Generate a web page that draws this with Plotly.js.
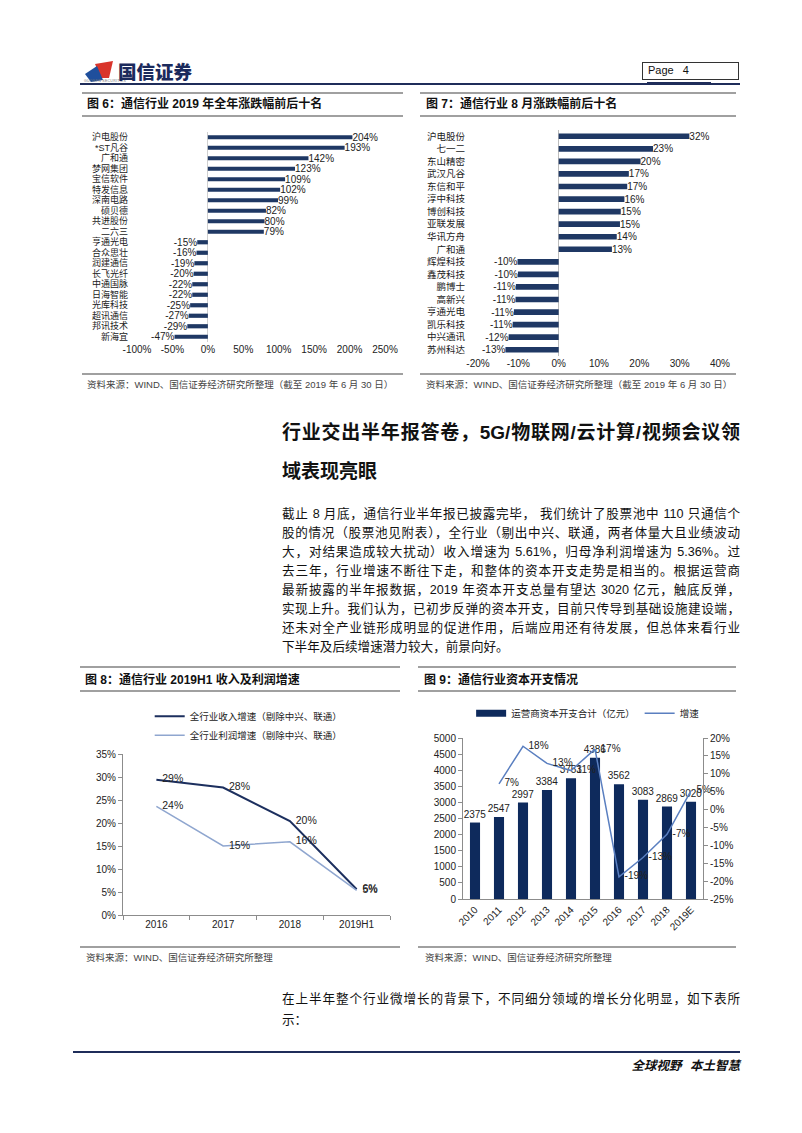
<!DOCTYPE html>
<html>
<head>
<meta charset="utf-8">
<script src="https://cdn.plot.ly/plotly-3.0.1.min.js"></script>
<style>
  html, body { margin:0; padding:0; background:#fff; }
  body { width:802px; height:1133px; position:relative; overflow:hidden;
         font-family:"Liberation Sans", "Noto Sans CJK SC", sans-serif; color:#111; }
  .abs { position:absolute; }
  .hl { position:absolute; z-index:3; }
  .plot { position:absolute; z-index:1; }
  .txt { position:absolute; z-index:4; white-space:nowrap; }
  .just { text-align:justify; text-align-last:justify; white-space:nowrap; overflow:visible; }
  .figt { font-size:12px; font-weight:bold; line-height:16px; }
  .src { font-size:9.5px; color:#444; line-height:12px; }
  .para { font-size:12.6px; line-height:18px; color:#111; }
  .head { font-size:19px; font-weight:700; line-height:26px; color:#111; }
</style>
</head>
<body>
<script>
// ---------------- DATA ----------------
const fig6Names = ['沪电股份','*ST凡谷','广和通','梦网集团','宝信软件','特发信息','深南电路','硕贝德','共进股份','二六三',
                   '亨通光电','合众思壮','润建通信','长飞光纤','中通国脉','日海智能','光库科技','超讯通信','邦讯技术','新海宜'];
const fig6Values = [204,193,142,123,109,102,99,82,80,79,-15,-16,-19,-20,-22,-22,-25,-27,-29,-47];
const fig6Ticks = [-100,-50,0,50,100,150,200,250];

const fig7Names = ['沪电股份','七一二','东山精密','武汉凡谷','东信和平','淳中科技','博创科技','亚联发展','华讯方舟','广和通',
                   '辉煌科技','鑫茂科技','鹏博士','高新兴','亨通光电','凯乐科技','中兴通讯','苏州科达'];
const fig7Values = [32.4,23.4,20.3,17.4,17.0,16.3,15.4,15.2,14.4,13.2,-10.2,-10.1,-10.6,-10.7,-11.1,-11.4,-12.4,-13.2];
const fig7Ticks = [-20,-10,0,10,20,30,40];

const fig8Years = ['2016','2017','2018','2019H1'];
const fig8Revenue = [29.4,27.7,20.4,5.61];
const fig8Profit = [23.6,15.0,15.9,5.36];
const fig8Ticks = [0,5,10,15,20,25,30,35];
const fig8Names = ['全行业收入增速（剔除中兴、联通）','全行业利润增速（剔除中兴、联通）'];

const fig9Years = ['2010','2011','2012','2013','2014','2015','2016','2017','2018','2019E'];
const fig9Capex = [2375,2547,2997,3384,3753,4386,3562,3083,2869,3020];
const fig9Growth = [null,7.2,17.7,12.9,10.9,16.9,-18.8,-13.4,-6.9,5.3];
const fig9LeftTicks = [0,500,1000,1500,2000,2500,3000,3500,4000,4500,5000];
const fig9RightTicks = [-25,-20,-15,-10,-5,0,5,10,15,20];
const fig9Names = ['运营商资本开支合计（亿元）','增速'];
</script>

<!-- header -->
<svg class="abs" style="left:83px;top:58px;z-index:4" width="34" height="28" viewBox="0 0 34 28">
  <polygon points="12,6 30,3 26,20 18,20" fill="#d9342b"/>
  <polygon points="2,16 14,8 20,22 8,24" fill="#1f4f9c"/>
</svg>
<div class="txt" style="left:84px;top:79px;font-size:3.5px;color:#777;letter-spacing:0.3px">GUOSEN SECURITIES</div>
<div class="txt" style="left:118px;top:60px;font-size:18.5px;font-weight:900;color:#1b2a5c;line-height:22px;font-family:'Noto Sans CJK SC'">国信证券</div>
<div class="abs" style="left:642px;top:62px;width:95px;height:16px;border:1px solid #333;z-index:4"></div>
<div class="txt" style="left:648px;top:63px;font-size:11px;line-height:14px">Page&nbsp;&nbsp;&nbsp;4</div>
<div class="hl" style="left:80px;top:83px;width:660px;height:2px;background:#1f2d5a"></div>
<div class="hl" style="left:647px;top:82px;width:64px;height:3px;background:#1f2d5a"></div>

<!-- fig 6/7 titles -->
<div class="hl" style="left:82px;top:92px;width:321px;height:1.5px;background:#a0a0a0"></div>
<div class="hl" style="left:82px;top:115px;width:321px;height:1.5px;background:#a0a0a0"></div>
<div class="hl" style="left:420px;top:92px;width:316px;height:1.5px;background:#a0a0a0"></div>
<div class="hl" style="left:420px;top:115px;width:316px;height:1.5px;background:#a0a0a0"></div>
<div class="txt figt" style="left:87px;top:96px">图 6：通信行业 2019 年全年涨跌幅前后十名</div>
<div class="txt figt" style="left:426px;top:96px">图 7：通信行业 8 月涨跌幅前后十名</div>

<div id="fig6" class="plot" style="left:75px;top:120px;width:325px;height:250px"></div>
<div id="fig7" class="plot" style="left:418px;top:120px;width:322px;height:262px"></div>

<div class="hl" style="left:82px;top:373px;width:321px;height:1.5px;background:#a0a0a0"></div>
<div class="hl" style="left:420px;top:373px;width:316px;height:1.5px;background:#a0a0a0"></div>
<div class="txt src" style="left:87px;top:379px">资料来源：WIND、国信证券经济研究所整理（截至 2019 年 6 月 30 日）</div>
<div class="txt src" style="left:426px;top:379px">资料来源：WIND、国信证券经济研究所整理（截至 2019 年 6 月 30 日）</div>

<!-- heading -->
<div class="txt head just" style="left:282px;top:420px;width:458px">行业交出半年报答卷，5G/物联网/云计算/视频会议领</div>
<div class="txt head" style="left:282px;top:459px">域表现亮眼</div>

<!-- paragraph -->
<div class="txt para just" style="left:282px;top:505px;width:458px">截止 8 月底，通信行业半年报已披露完毕， 我们统计了股票池中 110 只通信个</div>
<div class="txt para just" style="left:282px;top:524px;width:458px">股的情况（股票池见附表），全行业（剔出中兴、联通，两者体量大且业绩波动</div>
<div class="txt para just" style="left:282px;top:543px;width:458px">大，对结果造成较大扰动）收入增速为 5.61%，归母净利润增速为 5.36%。过</div>
<div class="txt para just" style="left:282px;top:562px;width:458px">去三年，行业增速不断往下走，和整体的资本开支走势是相当的。根据运营商</div>
<div class="txt para just" style="left:282px;top:581px;width:458px">最新披露的半年报数据，2019 年资本开支总量有望达 3020 亿元，触底反弹，</div>
<div class="txt para just" style="left:282px;top:600px;width:458px">实现上升。我们认为，已初步反弹的资本开支，目前只传导到基础设施建设端，</div>
<div class="txt para just" style="left:282px;top:619px;width:458px">还未对全产业链形成明显的促进作用，后端应用还有待发展，但总体来看行业</div>
<div class="txt para" style="left:282px;top:638px">下半年及后续增速潜力较大，前景向好。</div>

<!-- fig 8/9 titles -->
<div class="hl" style="left:80px;top:666px;width:320px;height:1.5px;background:#a0a0a0"></div>
<div class="hl" style="left:80px;top:690px;width:320px;height:1.5px;background:#a0a0a0"></div>
<div class="hl" style="left:418px;top:666px;width:318px;height:1.5px;background:#a0a0a0"></div>
<div class="hl" style="left:418px;top:690px;width:318px;height:1.5px;background:#a0a0a0"></div>
<div class="txt figt" style="left:85px;top:672px">图 8：通信行业 2019H1 收入及利润增速</div>
<div class="txt figt" style="left:424px;top:672px">图 9：通信行业资本开支情况</div>

<div id="fig8" class="plot" style="left:75px;top:695px;width:325px;height:250px"></div>
<div id="fig9" class="plot" style="left:418px;top:695px;width:322px;height:250px"></div>

<div class="hl" style="left:80px;top:946px;width:320px;height:1.5px;background:#a0a0a0"></div>
<div class="hl" style="left:418px;top:946px;width:318px;height:1.5px;background:#a0a0a0"></div>
<div class="txt src" style="left:86px;top:952px">资料来源：WIND、国信证券经济研究所整理</div>
<div class="txt src" style="left:425px;top:952px">资料来源：WIND、国信证券经济研究所整理</div>

<!-- bottom paragraph -->
<div class="txt para just" style="left:282px;top:990px;width:458px">在上半年整个行业微增长的背景下，不同细分领域的增长分化明显，如下表所</div>
<div class="txt para" style="left:282px;top:1011px">示：</div>

<!-- footer -->
<div class="hl" style="left:73px;top:1051px;width:667px;height:2px;background:#1f2d5a"></div>
<div class="txt" style="right:62px;top:1056px;font-size:12.5px;font-weight:bold;font-style:italic;line-height:18px;font-family:'Noto Sans CJK SC'">全球视野&nbsp;&nbsp;&nbsp;本土智慧</div>

<script>
const NAVY = '#1f3864';
const FONT = '"Liberation Sans", "Noto Sans CJK SC", sans-serif';
const cfg = {displayModeBar:false, staticPlot:true};
const pct = v => Math.round(v) + '%';
const pad = s => '\u00a0\u00a0' + s;

// ---- Fig 6 ----
Plotly.newPlot('fig6', [{
  type:'bar', orientation:'h', y:fig6Names, x:fig6Values,
  marker:{color:NAVY}, text:fig6Values.map(pct), textposition:'outside',
  constraintext:'none', cliponaxis:false,
  outsidetextfont:{size:10, color:'#222', family:FONT}, hoverinfo:'none'
}], {
  width:325, height:250, margin:{l:62, r:15, t:12, b:28},
  paper_bgcolor:'rgba(0,0,0,0)', plot_bgcolor:'rgba(0,0,0,0)',
  font:{family:FONT, size:10, color:'#222'}, showlegend:false, bargap:0.6,
  xaxis:{range:[-100,250], tickvals:fig6Ticks, ticktext:fig6Ticks.map(v=>v+'%'),
         showgrid:false, zeroline:true, zerolinecolor:'#d0d0d0', zerolinewidth:1,
         showline:false, ticks:'', tickfont:{size:10}},
  yaxis:{type:'category', autorange:'reversed', tickmode:'array', tickvals:fig6Names, ticktext:fig6Names,
         showgrid:false, zeroline:false, showline:false,
         ticks:'', ticklabelstandoff:8, tickfont:{size:9}}
}, cfg);

// ---- Fig 7 ----
Plotly.newPlot('fig7', [{
  type:'bar', orientation:'h', y:fig7Names, x:fig7Values,
  marker:{color:NAVY}, text:fig7Values.map(pct), textposition:'outside',
  constraintext:'none', cliponaxis:false,
  outsidetextfont:{size:10, color:'#222', family:FONT}, hoverinfo:'none'
}], {
  width:322, height:262, margin:{l:60, r:20, t:10, b:26},
  paper_bgcolor:'rgba(0,0,0,0)', plot_bgcolor:'rgba(0,0,0,0)',
  font:{family:FONT, size:10, color:'#222'}, showlegend:false, bargap:0.55,
  xaxis:{range:[-20,40], tickvals:fig7Ticks, ticktext:fig7Ticks.map(v=>v+'%'),
         showgrid:false, zeroline:true, zerolinecolor:'#bdbdbd', zerolinewidth:1,
         showline:false, ticks:'', tickfont:{size:10}},
  yaxis:{type:'category', autorange:'reversed', tickmode:'array', tickvals:fig7Names, ticktext:fig7Names,
         showgrid:false, zeroline:false, showline:false,
         ticks:'', ticklabelstandoff:12, tickfont:{size:9.5}}
}, cfg);

// ---- Fig 8 ----
Plotly.newPlot('fig8', [
  {type:'scatter', mode:'lines+text', x:fig8Years, y:fig8Revenue, name:fig8Names[0],
   line:{color:'#1c2f5e', width:2}, text:fig8Revenue.map(v => pad(pct(v))), textposition:'middle right',
   textfont:{size:10.5, color:'#222'}, cliponaxis:false, hoverinfo:'none'},
  {type:'scatter', mode:'lines+text', x:fig8Years, y:fig8Profit, name:fig8Names[1],
   line:{color:'#8fa6cf', width:1.5}, text:fig8Profit.map(v => pad(pct(v))), textposition:'middle right',
   textfont:{size:10.5, color:'#222'}, cliponaxis:false, hoverinfo:'none'}
], {
  width:325, height:250, margin:{l:48, r:10, t:59, b:30, autoexpand:false},
  paper_bgcolor:'rgba(0,0,0,0)', plot_bgcolor:'rgba(0,0,0,0)',
  font:{family:FONT, size:10, color:'#222'},
  showlegend:true,
  legend:{orientation:'v', xref:'paper', yref:'paper', x:0.10, y:1.325, xanchor:'left', yanchor:'top',
          font:{size:9.5, color:'#222'}, itemwidth:30, tracegroupgap:0, bgcolor:'rgba(0,0,0,0)'},
  xaxis:{type:'category', range:[-0.5,3.5], showgrid:false, zeroline:false, showline:true, linecolor:'#8c8c8c',
         ticks:'outside', tickson:'boundaries', ticklen:4, tickcolor:'#8c8c8c', tickfont:{size:10}, tickangle:0},
  yaxis:{range:[0,35], tickvals:fig8Ticks, ticktext:fig8Ticks.map(v=>v+'%'), showgrid:false, zeroline:false,
         showline:true, linecolor:'#8c8c8c', ticks:'outside', ticklen:4, tickcolor:'#8c8c8c', tickfont:{size:10}}
}, cfg);

// ---- Fig 9 ----
Plotly.newPlot('fig9', [
  {type:'bar', x:fig9Years, y:fig9Capex, name:fig9Names[0], showlegend:false,
   marker:{color:'#0e2a5c'}, text:fig9Capex.map(String), textposition:'outside',
   constraintext:'none', cliponaxis:false, outsidetextfont:{size:10, color:'#222'}, hoverinfo:'none'},
  {type:'scatter', mode:'lines', x:[null], y:[null], name:fig9Names[0], showlegend:true,
   line:{color:'#0e2a5c', width:7}, hoverinfo:'none'},
  {type:'scatter', mode:'lines+text', x:fig9Years, y:fig9Growth, yaxis:'y2', name:fig9Names[1],
   line:{color:'#5a7fc0', width:1.5}, text:fig9Growth.map(v => v===null ? '' : pad(pct(v))),
   textposition:'middle right', textfont:{size:10, color:'#222'}, cliponaxis:false, hoverinfo:'none'}
], {
  width:322, height:250, margin:{l:45, r:37, t:43, b:46, autoexpand:false},
  paper_bgcolor:'rgba(0,0,0,0)', plot_bgcolor:'rgba(0,0,0,0)',
  font:{family:FONT, size:10, color:'#222'}, bargap:0.58,
  showlegend:true,
  legend:{orientation:'h', xref:'container', yref:'container', x:0.165, y:0.985, xanchor:'left', yanchor:'top',
          font:{size:9.5, color:'#222'}, itemwidth:30, bgcolor:'rgba(0,0,0,0)'},
  xaxis:{type:'category', range:[-0.5,9.5], showgrid:false, zeroline:false, showline:true, linecolor:'#8c8c8c',
         ticks:'', tickangle:-45, tickfont:{size:10}},
  yaxis:{range:[0,5000], tickvals:fig9LeftTicks, showgrid:false, zeroline:false,
         showline:true, linecolor:'#8c8c8c', ticks:'outside', ticklen:4, tickcolor:'#8c8c8c', tickfont:{size:10}},
  yaxis2:{overlaying:'y', side:'right', range:[-25,20], tickvals:fig9RightTicks,
          ticktext:fig9RightTicks.map(v=>v+'%'), showgrid:false, zeroline:false,
          showline:true, linecolor:'#8c8c8c', ticks:'outside', ticklen:4, tickcolor:'#8c8c8c', tickfont:{size:10}}
}, cfg);
</script>
</body>
</html>
